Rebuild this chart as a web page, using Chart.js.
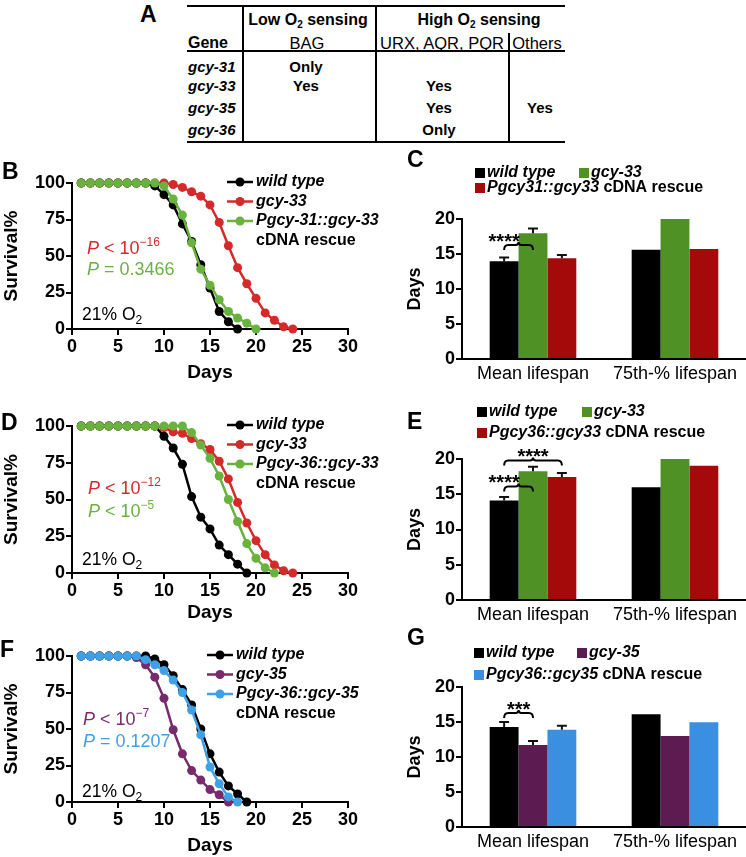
<!DOCTYPE html>
<html>
<head>
<meta charset="utf-8">
<script src="https://cdn.jsdelivr.net/npm/chart.js@4.4.0/dist/chart.umd.min.js"></script>
<style>
  body { margin: 0; background: #fff; }
  #page { position: relative; width: 746px; height: 857px; overflow: hidden;
          font-family: "Liberation Sans", Arial, sans-serif; }
  canvas { position: absolute; }
  .t { position: absolute; font-size: 15px; font-weight: bold; line-height: 18px; white-space: nowrap; color: #000; }
  .t sub { font-size: 10px; vertical-align: -3px; line-height: 0; }
  .rule { position: absolute; background: #000; }
</style>
</head>
<body>
<div id="page">
  <div id="tableA"></div>
  <canvas id="cB" width="380" height="240" style="left:0;top:150px"></canvas>
  <canvas id="cC" width="366" height="245" style="left:380px;top:145px"></canvas>
  <canvas id="cD" width="380" height="240" style="left:0;top:390px"></canvas>
  <canvas id="cE" width="366" height="240" style="left:380px;top:390px"></canvas>
  <canvas id="cF" width="380" height="237" style="left:0;top:620px"></canvas>
  <canvas id="cG" width="366" height="237" style="left:380px;top:620px"></canvas>
</div>
<script>
const FONT = '"Liberation Sans", Arial, sans-serif';

// ---- panel A table ----
const tableHeadTop = ['Low O<sub>2</sub> sensing', 'High O<sub>2</sub> sensing'];
const tableHeadSub = ['Gene', 'BAG', 'URX, AQR, PQR', 'Others'];
const tableGenes = ['gcy-31', 'gcy-33', 'gcy-35', 'gcy-36'];
const tableBAG = ['Only', 'Yes', '', ''];
const tableURX = ['', 'Yes', 'Yes', 'Only'];
const tableOthers = ['', '', 'Yes', ''];

// ---- survival curves (day 1, 2, 3 ...) ----
const days = [1, 2, 3, 4, 5, 6, 7, 8, 9, 10, 11, 12, 13, 14, 15, 16, 17, 18, 19, 20, 21, 22, 23, 24];
const survTicksX = [0, 5, 10, 15, 20, 25, 30];
const survTicksY = [0, 25, 50, 75, 100];

const bWild   = [100, 100, 100, 100, 100, 100, 100, 100, 98, 92, 85, 72, 60, 44, 28, 12, 5, 0];
const bGcy33  = [100, 100, 100, 100, 100, 100, 100, 100, 100, 100, 99, 97, 94, 91, 85, 73, 57, 42, 31, 21, 11, 6, 1.5, 0];
const bRescue = [100, 100, 100, 100, 100, 100, 100, 100, 100, 98, 89, 78, 59, 41, 30, 20, 12, 7.5, 4, 0];

const dWild   = [100, 100, 100, 100, 100, 100, 100, 100, 100, 93, 85, 74, 52, 38, 30, 19, 12.5, 6, 0];
const dGcy33  = [100, 100, 100, 100, 100, 100, 100, 100, 100, 99, 96, 95, 91.5, 88, 84, 76, 64, 48, 34, 22, 12.5, 5.5, 1.5, 0];
const dRescue = [100, 100, 100, 100, 100, 100, 100, 100, 100, 100, 100, 100, 95.5, 87, 78, 66, 50, 35, 20, 10, 3.5, 0];

const fWild   = [100, 100, 100, 100, 100, 100, 100, 100, 98, 94, 86.5, 77, 66.5, 50, 33, 20.5, 11, 5.5, 0];
const fGcy35  = [100, 100, 100, 100, 100, 100, 99, 94, 85.5, 71, 49.5, 33, 21.5, 15, 8.5, 5, 0];
const fRescue = [100, 100, 100, 100, 100, 100, 100, 97.5, 94, 90, 83.5, 75, 63, 46, 24, 12.5, 3.5, 0];

// ---- bar charts ----
const barCats = ['Mean lifespan', '75th-% lifespan'];
const barTicksY = [0, 5, 10, 15, 20];

const cWild = [13.95, 15.6],  cGcy33 = [17.95, 20], cRescue = [14.4, 15.7];
const cWildErr = [0.55, 0],   cGcy33Err = [0.7, 0], cRescueErr = [0.45, 0];

const eWild = [14.1, 16.0],   eGcy33 = [18.25, 20], eRescue = [17.45, 19.05];
const eWildErr = [0.5, 0],    eGcy33Err = [0.65, 0], eRescueErr = [0.55, 0];

const gWild = [14.3, 16.1],   gGcy35 = [11.7, 13.0], gRescue = [13.9, 14.95];
const gWildErr = [0.7, 0],    gGcy35Err = [0.6, 0],  gRescueErr = [0.55, 0];

const rescueNote = 'cDNA rescue';

// ---------------- panel A ----------------
const A = document.getElementById('tableA');
function addText(html, x, y, center, extra) {
  const d = document.createElement('div');
  d.className = 't';
  d.innerHTML = html;
  d.style.top = (y - 9) + 'px';
  d.style.left = x + 'px';
  if (center) d.style.transform = 'translateX(-50%)';
  if (extra) Object.assign(d.style, extra);
  A.appendChild(d);
}
function addRule(x, y, w, h) {
  const d = document.createElement('div');
  d.className = 'rule';
  Object.assign(d.style, { left: x + 'px', top: y + 'px', width: w + 'px', height: h + 'px' });
  A.appendChild(d);
}
const head = { fontSize: '16px' };
const sub = { fontSize: '16.5px', fontWeight: 'normal' };
addText('A', 140, 14, false, { fontSize: '23px', lineHeight: '18px' });
addRule(187, 5, 378, 2);
addRule(187, 50, 378, 2);
addRule(187, 141, 378, 2);
addRule(242, 5, 2, 138);
addRule(375, 5, 2, 138);
addRule(508, 33, 2, 110);
addText(tableHeadTop[0], 308, 20, true, head);
addText(tableHeadTop[1], 479, 20, true, head);
addText(tableHeadSub[0], 188, 43, false, head);
addText(tableHeadSub[1], 307, 43, true, sub);
addText(tableHeadSub[2], 442, 43, true, sub);
addText(tableHeadSub[3], 537, 43, true, sub);
const rowY = [67, 86, 108, 130];
tableGenes.forEach((g, i) => {
  addText(g, 188, rowY[i], false, { fontStyle: 'italic' });
  if (tableBAG[i]) addText(tableBAG[i], 306, rowY[i], true);
  if (tableURX[i]) addText(tableURX[i], 439, rowY[i], true);
  if (tableOthers[i]) addText(tableOthers[i], 540, rowY[i], true);
});

// ---------------- charts ----------------
Chart.defaults.font.family = FONT;
Chart.defaults.color = '#000';

function drawParts(ctx, parts, x, y, size, weight, color) {
  ctx.fillStyle = color;
  ctx.textBaseline = 'middle';
  ctx.textAlign = 'left';
  parts.forEach(p => {
    const small = p.sup || p.sub;
    const fs = small ? Math.round(size * 0.68) : size;
    ctx.font = (p.i ? 'italic ' : '') + (p.w || weight) + ' ' + fs + 'px ' + FONT;
    const dy = p.sup ? -size * 0.36 : (p.sub ? size * 0.3 : 0);
    ctx.fillText(p.t, x, y + dy);
    x += ctx.measureText(p.t).width;
  });
  return x;
}

const extrasPlugin = {
  id: 'extras',
  afterDraw(chart, args, o) {
    const ctx = chart.ctx;
    ctx.save();
    if (o.letter) {
      ctx.font = 'bold 23px ' + FONT;
      ctx.fillStyle = '#000';
      ctx.textBaseline = 'top';
      ctx.textAlign = 'left';
      ctx.fillText(o.letter.text, o.letter.x, o.letter.y);
    }
    (o.texts || []).forEach(t => drawParts(ctx, t.parts, t.x, t.y, t.size || 18, 'normal', t.color));

    if (o.lineLegend) {
      const L = o.lineLegend;
      chart.data.datasets.forEach((ds, i) => {
        const y = L.y + i * L.dy;
        ctx.strokeStyle = ds.borderColor;
        ctx.lineWidth = 2.5;
        ctx.beginPath(); ctx.moveTo(L.x, y); ctx.lineTo(L.x + L.w, y); ctx.stroke();
        ctx.fillStyle = ds.borderColor;
        ctx.beginPath(); ctx.arc(L.x + L.w / 2, y, 4.5, 0, Math.PI * 2); ctx.fill();
        drawParts(ctx, [{ t: ds.label, i: 1 }], L.x + L.w + 3, y, 16, 'bold', '#000');
      });
      drawParts(ctx, [{ t: rescueNote }], L.x + L.w + 3, L.y + 3 * L.dy, 16, 'bold', '#000');
    }

    if (o.boxLegend) {
      o.boxLegend.forEach(b => {
        const ds = chart.data.datasets[b.i];
        ctx.fillStyle = ds.backgroundColor;
        ctx.fillRect(b.x, b.y - 5, 10, 10);
        const parts = [{ t: ds.label, i: 1 }];
        if (b.note) parts.push({ t: ' ' + rescueNote });
        drawParts(ctx, parts, b.x + 12, b.y, 16, 'bold', '#000');
      });
    }

    if (o.errors) {
      const ys = chart.scales.y;
      o.errors.forEach((errs, di) => {
        const meta = chart.getDatasetMeta(di);
        errs.forEach((e, k) => {
          if (!e) return;
          const bar = meta.data[k];
          const v = chart.data.datasets[di].data[k];
          const top = ys.getPixelForValue(v + e);
          ctx.strokeStyle = '#111';
          ctx.lineWidth = 2;
          ctx.beginPath();
          ctx.moveTo(bar.x, bar.y); ctx.lineTo(bar.x, top);
          ctx.moveTo(bar.x - 5, top); ctx.lineTo(bar.x + 5, top);
          ctx.stroke();
        });
      });
    }

    (o.brackets || []).forEach(br => {
      const x1 = chart.getDatasetMeta(br.a).data[br.cat].x;
      const x2 = chart.getDatasetMeta(br.b).data[br.cat].x;
      const y = chart.scales.y.getPixelForValue(br.y);
      const mid = (x1 + x2) / 2;
      ctx.strokeStyle = '#000';
      ctx.lineWidth = 2;
      ctx.beginPath();
      ctx.moveTo(x1, y + 5);
      ctx.quadraticCurveTo(x1, y, x1 + 4, y);
      ctx.lineTo(mid - 3, y);
      ctx.quadraticCurveTo(mid, y, mid, y - 3);
      ctx.quadraticCurveTo(mid, y, mid + 3, y);
      ctx.lineTo(x2 - 4, y);
      ctx.quadraticCurveTo(x2, y, x2, y + 5);
      ctx.stroke();
      ctx.font = 'bold 20px ' + FONT;
      ctx.fillStyle = '#000';
      ctx.textAlign = 'center';
      ctx.textBaseline = 'alphabetic';
      ctx.fillText(br.stars, x1 + (x2 - x1) * br.starAt, y + 3);
    });
    ctx.restore();
  }
};

function axisStyle(size) {
  return {
    grid: { drawOnChartArea: false, color: '#000', lineWidth: 2, tickLength: 6 },
    border: { color: '#000', width: 2 },
    ticks: { font: { size: size, weight: 'bold' }, padding: 1, color: '#000', autoSkip: false }
  };
}

function survivalChart(id, names, values, colors, geo, extras) {
  const xAxis = axisStyle(18);
  const yAxis = axisStyle(18);
  return new Chart(document.getElementById(id), {
    type: 'line',
    data: {
      datasets: names.map((n, i) => ({
        label: n,
        data: values[i].map((v, k) => ({ x: days[k], y: v })),
        borderColor: colors[i],
        backgroundColor: colors[i],
        pointBackgroundColor: colors[i],
        pointBorderColor: colors[i],
        borderWidth: 2.5,
        pointRadius: 4.5,
        pointBorderWidth: 0,
        tension: 0,
        clip: false,
        order: [1, 2, 0][i]
      }))
    },
    options: {
      responsive: false,
      animation: false,
      events: [],
      layout: { padding: { top: geo.top, right: 32, left: 0, bottom: 0 } },
      plugins: { legend: { display: false }, tooltip: { enabled: false }, extras: extras },
      scales: {
        x: Object.assign(xAxis, {
          type: 'linear', min: 0, max: 30,
          afterBuildTicks: s => { s.ticks = survTicksX.map(v => ({ value: v })); },
          title: { display: true, text: 'Days', font: { size: 19, weight: 'bold' }, padding: { top: 0, bottom: geo.daysPad } },
          afterFit: s => { s.height = geo.xh; }
        }),
        y: Object.assign(yAxis, {
          min: 0, max: 100,
          afterBuildTicks: s => { s.ticks = survTicksY.map(v => ({ value: v })); },
          title: { display: true, text: 'Survival%', font: { size: 19, weight: 'bold' }, padding: { top: 0, bottom: 0 } },
          afterFit: s => { s.width = 72; }
        })
      }
    },
    plugins: [extrasPlugin]
  });
}

function barChart(id, names, values, colors, geo, extras) {
  const yAxis = axisStyle(18);
  return new Chart(document.getElementById(id), {
    type: 'bar',
    data: {
      labels: barCats,
      datasets: names.map((n, i) => ({
        label: n,
        data: values[i],
        backgroundColor: colors[i],
        borderWidth: 0,
        barPercentage: 1,
        categoryPercentage: 0.61
      }))
    },
    options: {
      responsive: false,
      animation: false,
      events: [],
      layout: { padding: { top: geo.top, right: 0, left: 0, bottom: 0 } },
      plugins: { legend: { display: false }, tooltip: { enabled: false }, extras: extras },
      scales: {
        x: {
          grid: { display: false, drawTicks: false },
          border: { color: '#000', width: 2 },
          ticks: { font: { size: 18 }, padding: 4, color: '#000' },
          afterFit: s => { s.height = geo.xh; }
        },
        y: Object.assign(yAxis, {
          min: 0, max: 20,
          afterBuildTicks: s => { s.ticks = barTicksY.map(v => ({ value: v })); },
          title: { display: true, text: 'Days', font: { size: 18, weight: 'bold' }, padding: { top: 24, bottom: 0 } },
          afterFit: s => { s.width = 82; }
        })
      }
    },
    plugins: [extrasPlugin]
  });
}

const black = '#000000';
const survRed = '#d42a2a', survGreen = '#6ab23e', survPurple = '#772a6c', survBlue = '#3fa0e6';
const barGreen = '#4f9125', barRed = '#a50a0a', barPurple = '#5c1b51', barBlue = '#3a8fe0';

// B
survivalChart('cB', ['wild type', 'gcy-33', 'Pgcy-31::gcy-33'], [bWild, bGcy33, bRescue],
  [black, survRed, survGreen], { top: 33, xh: 61, daysPad: 6 }, {
    letter: { text: 'B', x: 2, y: 11 },
    lineLegend: { x: 227, y: 32, dy: 19.5, w: 26 },
    texts: [
      { x: 87, y: 99, color: survRed, parts: [{ t: 'P', i: 1 }, { t: ' < 10' }, { t: '\u221216', sup: 1 }] },
      { x: 87, y: 120, color: survGreen, parts: [{ t: 'P', i: 1 }, { t: ' = 0.3466' }] },
      { x: 82, y: 165, size: 17.5, color: '#000', parts: [{ t: '21% O' }, { t: '2', sub: 1 }] }
    ]
  });

// C
barChart('cC', ['wild type', 'gcy-33', 'Pgcy31::gcy33'], [cWild, cGcy33, cRescue],
  [black, barGreen, barRed], { top: 74, xh: 31 }, {
    letter: { text: 'C', x: 27, y: 4 },
    boxLegend: [{ i: 0, x: 95, y: 28 }, { i: 1, x: 199, y: 28 }, { i: 2, x: 95, y: 43, note: 1 }],
    errors: [cWildErr, cGcy33Err, cRescueErr],
    brackets: [{ a: 0, b: 1, cat: 0, y: 16.3, stars: '****', starAt: 0 }]
  });

// D
survivalChart('cD', ['wild type', 'gcy-33', 'Pgcy-36::gcy-33'], [dWild, dGcy33, dRescue],
  [black, survRed, survGreen], { top: 36, xh: 57, daysPad: 6 }, {
    letter: { text: 'D', x: 1, y: 22 },
    lineLegend: { x: 227, y: 35, dy: 19.5, w: 26 },
    texts: [
      { x: 88, y: 99, color: survRed, parts: [{ t: 'P', i: 1 }, { t: ' < 10' }, { t: '\u221212', sup: 1 }] },
      { x: 88, y: 122, color: survGreen, parts: [{ t: 'P', i: 1 }, { t: ' < 10' }, { t: '\u22125', sup: 1 }] },
      { x: 82, y: 170, size: 17.5, color: '#000', parts: [{ t: '21% O' }, { t: '2', sub: 1 }] }
    ]
  });

// E
barChart('cE', ['wild type', 'gcy-33', 'Pgcy36::gcy33'], [eWild, eGcy33, eRescue],
  [black, barGreen, barRed], { top: 69, xh: 30 }, {
    letter: { text: 'E', x: 27, y: 21 },
    boxLegend: [{ i: 0, x: 97, y: 22 }, { i: 1, x: 202, y: 22 }, { i: 2, x: 97, y: 43, note: 1 }],
    errors: [eWildErr, eGcy33Err, eRescueErr],
    brackets: [
      { a: 0, b: 1, cat: 0, y: 16.1, stars: '****', starAt: 0 },
      { a: 0, b: 2, cat: 0, y: 19.8, stars: '****', starAt: 0.5 }
    ]
  });

// F
survivalChart('cF', ['wild type', 'gcy-35', 'Pgcy-36::gcy-35'], [fWild, fGcy35, fRescue],
  [black, survPurple, survBlue], { top: 36, xh: 55, daysPad: 0 }, {
    letter: { text: 'F', x: 0, y: 19 },
    lineLegend: { x: 207, y: 35, dy: 19.5, w: 26 },
    texts: [
      { x: 83, y: 100, color: survPurple, parts: [{ t: 'P', i: 1 }, { t: ' < 10' }, { t: '\u22127', sup: 1 }] },
      { x: 83, y: 122, color: survBlue, parts: [{ t: 'P', i: 1 }, { t: ' = 0.1207' }] },
      { x: 82, y: 172, size: 17.5, color: '#000', parts: [{ t: '21% O' }, { t: '2', sub: 1 }] }
    ]
  });

// G
barChart('cG', ['wild type', 'gcy-35', 'Pgcy36::gcy35'], [gWild, gGcy35, gRescue],
  [black, barPurple, barBlue], { top: 67, xh: 30 }, {
    letter: { text: 'G', x: 27, y: 7 },
    boxLegend: [{ i: 0, x: 94, y: 33 }, { i: 1, x: 197, y: 33 }, { i: 2, x: 94, y: 55, note: 1 }],
    errors: [gWildErr, gGcy35Err, gRescueErr],
    brackets: [{ a: 0, b: 1, cat: 0, y: 16.3, stars: '***', starAt: 0.5 }]
  });
</script>
</body>
</html>
